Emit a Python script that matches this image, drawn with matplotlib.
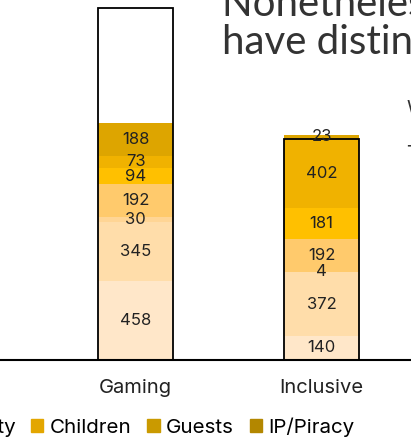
import matplotlib.pyplot as plt
from matplotlib.patches import Patch

# stacked counts per category, bottom to top
categories = ['Gaming', 'Inclusive']
segment_names = ['Harassment', 'Hate Speech', 'Spam', 'Toxicity', 'Children', 'Guests', 'IP/Piracy']
gaming = [458, 345, 30, 192, 94, 73, 188]
inclusive = [140, 372, 4, 192, 181, 402, 23]
totals = [2051, 1289]   # outlined bar = total rules

seg_colors = ['#FFE7C9', '#FFDDAA', '#FFD595', '#FFCA6C', '#FFC000', '#F0B200', '#DDA500']
legend_colors = ['#FFE1B5', '#FFD18A', '#FFC65E', '#F2B400', '#E3A600', '#CA9A00', '#B38700']

plt.rcParams['font.family'] = ['Inter', 'DejaVu Sans']

fig = plt.figure(figsize=(4.11, 4.38), dpi=100)
ax = fig.add_axes([-100 / 411, 78 / 438, 611 / 411, 360 / 438])

x = [0, 1]
w = 0.405
data = [gaming, inclusive]
bottoms = [0, 0]
for i in range(len(segment_names)):
    vals = [d[i] for d in data]
    ax.bar(x, vals, w, bottom=bottoms, color=seg_colors[i], linewidth=0)
    for xi, v, b in zip(x, vals, bottoms):
        ax.text(xi, b + v / 2, str(v), ha='center', va='center', fontsize=12, color='#222222')
    bottoms = [b + v for b, v in zip(bottoms, vals)]

# outline for the totals
ax.bar(x, totals, w, fill=False, edgecolor='black', linewidth=1.3)

ax.set_xlim(-1.268, 2.019)
ax.set_ylim(0, 2099)
for s in ['left', 'right', 'top']:
    ax.spines[s].set_visible(False)
ax.spines['bottom'].set_linewidth(1.5)
ax.set_yticks([])
ax.set_xticks(x)
ax.set_xticklabels(categories, fontsize=14.5, color='#222222')
ax.tick_params(axis='x', length=0, pad=14)

handles = [Patch(color=c, label=n) for c, n in zip(legend_colors, segment_names)]
fig.legend(handles=handles, loc='center right', bbox_to_anchor=(354 / 411, 11 / 438),
           ncol=7, frameon=False, fontsize=14.8, borderpad=0, borderaxespad=0,
           handlelength=0.59, handleheight=0.59, handletextpad=0.3, columnspacing=0.78)

fig.text(222 / 411, (438 - 16) / 438, 'Nonetheless, they', fontsize=29, color='#333333',
         family='Lato', va='baseline')
fig.text(222 / 411, (438 - 54) / 438, 'have distinct rules', fontsize=29, color='#333333',
         family='Lato', va='baseline')
fig.text(406 / 411, (438 - 100) / 438, 'We', fontsize=14, color='#333333', va='top')
fig.text(406 / 411, (438 - 145) / 438, 'T', fontsize=14, color='#333333', va='top')

fig.savefig('out.png', dpi=100)
